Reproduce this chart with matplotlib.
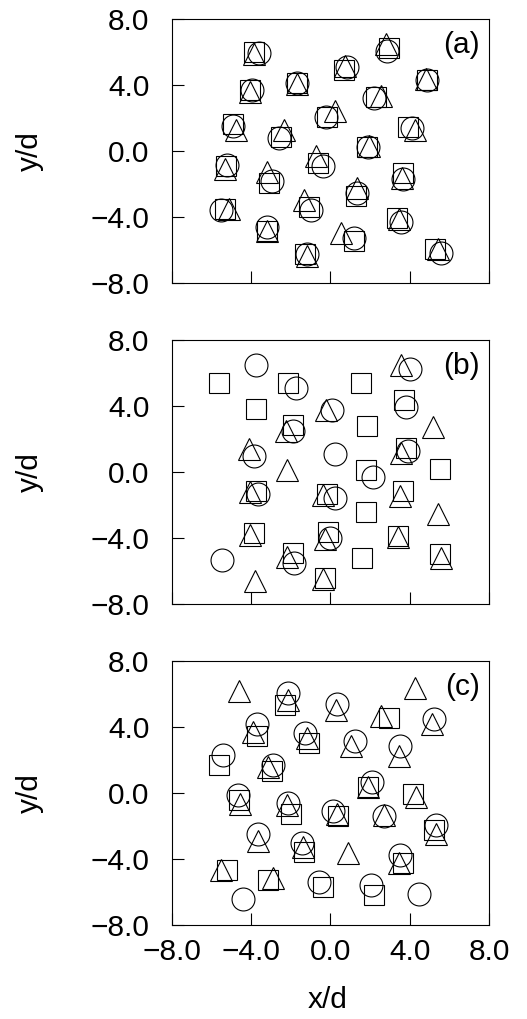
import matplotlib
matplotlib.use("Agg")
import matplotlib.pyplot as plt
from matplotlib.ticker import FuncFormatter
import numpy as np

plt.rcParams["font.family"] = ["Liberation Sans", "DejaVu Sans"]

# panel (a): positions, (x/d, y/d)
a_circles = [(-3.6, 5.94), (0.82, 5.05), (2.87, 6.06), (4.85, 4.30), (-3.96, 3.68), (-1.69, 4.12),
             (2.20, 3.19), (-0.22, 2.02), (-4.92, 1.52), (-2.58, 0.77), (4.13, 1.35), (1.88, 0.24),
             (-5.22, -0.87), (-0.35, -0.91), (-2.95, -1.82), (3.67, -1.72), (1.36, -2.59), (-5.52, -3.58),
             (-0.99, -3.60), (3.54, -4.34), (-3.20, -4.65), (1.19, -5.29), (-1.16, -6.26), (5.60, -6.22)]
a_squares = [(-3.83, 5.96), (0.69, 4.91), (2.95, 6.20), (4.87, 4.30), (-4.04, 3.66), (-1.69, 4.08),
             (2.32, 3.27), (-0.18, 2.02), (-4.92, 1.62), (-2.50, 0.81), (3.93, 1.45), (1.86, 0.24),
             (-5.25, -0.91), (-0.60, -0.77), (-3.09, -1.98), (3.67, -1.37), (1.29, -2.73), (-5.32, -3.54),
             (-1.06, -3.41), (3.34, -4.10), (-3.20, -4.85), (1.19, -5.45), (-1.28, -6.26), (5.30, -5.96)]
a_triangles = [(-3.86, 5.84), (0.74, 5.11), (2.80, 6.46), (4.82, 4.36), (-4.04, 3.58), (-1.69, 4.02),
               (2.55, 3.29), (0.23, 2.42), (-4.75, 1.25), (-2.32, 1.25), (4.26, 1.23), (1.96, 0.30),
               (-5.33, -1.11), (-0.72, -0.34), (-3.17, -1.31), (3.62, -1.64), (1.33, -2.28), (-5.13, -3.54),
               (-1.33, -2.97), (3.46, -4.16), (-3.20, -4.85), (0.54, -4.97), (-1.16, -6.36), (5.44, -5.96)]

# panel (b)
b_circles = [(-3.74, 6.46), (-1.73, 5.11), (4.01, 6.22), (0.07, 3.74), (3.81, 3.96), (-1.86, 2.48),
             (-3.84, 0.97), (0.23, 1.07), (3.93, 1.27), (2.13, -0.28), (-3.62, -1.35), (0.23, -1.56),
             (-0.02, -3.98), (-5.47, -5.33), (-1.83, -5.49)]
b_squares = [(-5.59, 5.41), (-2.11, 5.41), (1.54, 5.41), (3.71, 4.34), (-3.74, 3.80), (-1.90, 2.85),
             (1.83, 2.79), (3.81, 1.47), (1.78, 0.10), (5.52, 0.16), (-3.74, -1.15), (-0.18, -1.31),
             (3.67, -1.15), (1.78, -2.42), (-3.83, -3.68), (-0.13, -3.62), (3.42, -3.88), (-1.86, -4.89),
             (1.58, -5.23), (5.55, -4.99), (-0.27, -6.44)]
b_triangles = [(3.56, 6.48), (-0.22, 3.78), (5.18, 2.75), (-2.25, 2.46), (-4.08, 1.37), (3.56, 1.15),
               (-2.16, 0.12), (-4.04, -1.19), (-0.35, -1.41), (3.51, -1.43), (5.44, -2.55), (-4.04, -3.80),
               (-0.27, -4.06), (3.39, -3.94), (-2.16, -5.13), (5.60, -5.19), (-3.79, -6.61), (-0.39, -6.46)]

# panel (c)
c_circles = [(-2.11, 6.08), (0.35, 5.41), (-3.71, 4.20), (5.23, 4.51), (-1.28, 3.64), (1.24, 3.15),
             (3.51, 2.83), (-5.42, 2.32), (-2.87, 1.72), (2.08, 0.67), (-4.66, -0.14), (-2.11, -0.61),
             (0.15, -1.11), (2.72, -1.41), (5.35, -1.96), (-3.62, -2.46), (-1.44, -3.01), (3.51, -3.74),
             (-0.55, -5.39), (2.05, -5.60), (-4.41, -6.44), (4.48, -6.14)]
c_squares = [(-2.28, 5.31), (2.97, 4.55), (-3.71, 3.43), (-1.06, 3.03), (-5.59, 1.72), (-2.92, 1.33),
             (1.91, 0.36), (4.18, -0.08), (-4.58, -0.40), (-2.00, -1.25), (0.37, -1.41), (5.23, -2.26),
             (-1.31, -3.58), (3.64, -4.24), (-5.22, -4.69), (-3.12, -5.25), (-0.39, -5.70), (2.20, -6.20)]
c_triangles = [(-4.60, 6.20), (4.26, 6.38), (-2.15, 5.64), (0.27, 5.01), (2.58, 4.67), (5.13, 4.16),
               (-3.91, 3.70), (-1.19, 3.33), (1.04, 2.83), (3.47, 2.26), (-3.12, 1.56), (1.91, 0.36),
               (4.31, -0.26), (-4.55, -0.67), (-2.16, -0.73), (0.35, -1.27), (2.70, -1.35), (5.32, -2.48),
               (-3.66, -2.91), (-1.39, -3.27), (0.91, -3.66), (3.47, -4.26), (-5.50, -4.65), (-2.87, -5.17)]

panels = [("(a)", a_circles, a_squares, a_triangles),
          ("(b)", b_circles, b_squares, b_triangles),
          ("(c)", c_circles, c_squares, c_triangles)]
ticks = [-8.0, -4.0, 0.0, 4.0, 8.0]

fig = plt.figure(figsize=(5.27, 10.19), dpi=100)
bottoms = [0.7226, 0.4073, 0.0922]
fmt = FuncFormatter(lambda v, pos: f"{v:.1f}".replace("-", "\u2212"))

for i, (tag, circ, sq, tri) in enumerate(panels):
    ax = fig.add_axes([0.3256, bottoms[i], 0.6023, 0.2591])
    for pts, mk, ms in [(sq, "s", 14.4), (circ, "o", 16.5), (tri, "^", 16.5)]:
        p = np.array(pts)
        ax.plot(p[:, 0], p[:, 1], ls="none", marker=mk, ms=ms, mfc="none",
                mec="black", mew=0.8)
    ax.set_xlim(-8, 8)
    ax.set_ylim(-8, 8)
    ax.set_xticks(ticks)
    ax.set_yticks(ticks)
    ax.xaxis.set_major_formatter(fmt)
    ax.yaxis.set_major_formatter(fmt)
    ax.tick_params(direction="in", length=8.4, width=0.8, labelsize=21.5, colors="black")
    ax.tick_params(axis="y", pad=16)
    ax.tick_params(axis="x", pad=9)
    if i < 2:
        ax.tick_params(axis="x", labelbottom=False)
    for s in ax.spines.values():
        s.set_linewidth(0.8)
    ax.text(0.972, 0.90, tag, transform=ax.transAxes, ha="right", va="center", fontsize=21.5)
    fig.text(30 / 527, bottoms[i] + 0.2591 / 2, "y/d", rotation=90, ha="center", va="center",
             fontsize=21.5)

fig.text(328 / 527, 1 - 1000 / 1019, "x/d", ha="center", va="center", fontsize=21.5)

fig.savefig("out.png", dpi=100)
